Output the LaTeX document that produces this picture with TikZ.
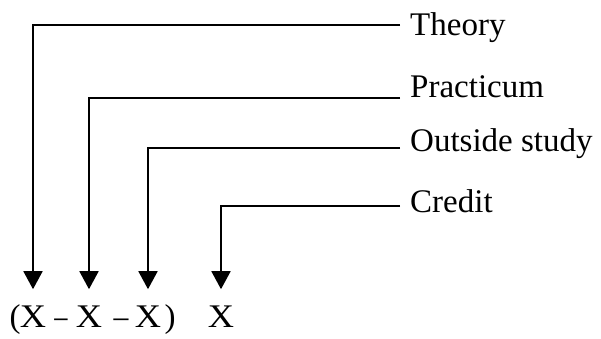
\documentclass[tikz,border=0pt]{standalone}
\usepackage{fontspec}
\setmainfont{Liberation Serif}
\usetikzlibrary{arrows.meta}
\begin{document}
\begin{tikzpicture}[x=1pt,y=-1pt,
  lbl/.style={anchor=base west,inner xsep=10pt,inner ysep=0pt,font=\fontsize{33}{40}\selectfont},
  sym/.style={anchor=base,inner xsep=0pt,inner ysep=16pt,font=\fontsize{33}{40}\selectfont},
  conn/.style={line width=1.8pt,-{Triangle[length=18pt,width=19pt]}}]
\useasboundingbox (0,0) rectangle (601,338);
% labels
\node[lbl] (l1) at (400,35) {Theory};
\node[lbl] (l2) at (400,97) {Practicum};
\node[lbl] (l3) at (400,151) {Outside study};
\node[lbl] (l4) at (400,212) {Credit};
% bottom symbols
\node[sym] (po) at (15,327) {(};
\node[sym,xscale=1.1] (x1) at (33,327) {X};
\node[sym,xscale=0.8] (d1) at (61,327) {–};
\node[sym,xscale=1.1] (x2) at (89,327) {X};
\node[sym,xscale=0.9] (d2) at (121,327) {–};
\node[sym,xscale=1.1] (x3) at (148,327) {X};
\node[sym] (pc) at (170,327) {)};
\node[sym,xscale=1.1] (x4) at (221,327) {X};
% corners
\coordinate (c1) at (33,25);
\coordinate (c2) at (89,98);
\coordinate (c3) at (148,148);
\coordinate (c4) at (221,206);
% connectors
\draw[conn] (l1.west |- c1) -- (c1) -- (x1.north);
\draw[conn] (l2.west |- c2) -- (c2) -- (x2.north);
\draw[conn] (l3.west |- c3) -- (c3) -- (x3.north);
\draw[conn] (l4.west |- c4) -- (c4) -- (x4.north);
\end{tikzpicture}
\end{document}
